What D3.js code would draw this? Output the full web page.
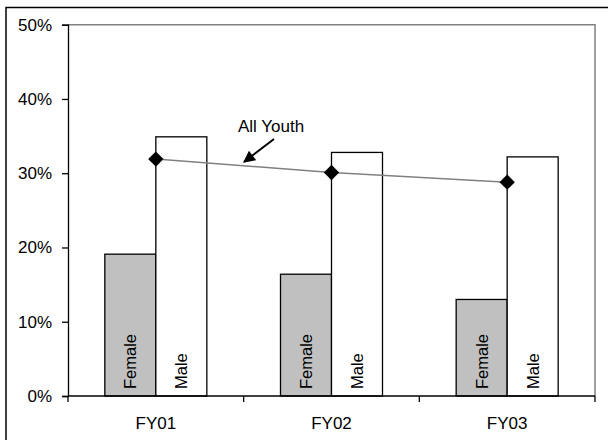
<!DOCTYPE html>
<html>
<head>
<meta charset="utf-8">
<script src="https://cdn.jsdelivr.net/npm/d3@7"></script>
<style>
  body { margin: 0; background: #fff; }
  svg { display: block; font-family: "Liberation Sans", Arial, sans-serif; }
</style>
</head>
<body>
<svg id="chart" width="608" height="440"></svg>
<script>
// data
const years = ["FY01", "FY02", "FY03"];
const female = [0.191, 0.164, 0.130];
const male = [0.349, 0.328, 0.322];
const allYouth = [0.319, 0.301, 0.288];
const yTicks = [0, 0.1, 0.2, 0.3, 0.4, 0.5];

var svg = d3.select("#chart");
var pLeft = 68, pRight = 595, pTop = 24.7, pBottom = 396;

// outer frame (only top and left edges show in the picture)
svg.append("path")
  .attr("d", "M6,440V7.5H608")
  .attr("fill", "none").attr("stroke", "#000").attr("stroke-width", 1.5);

var x = d3.scaleBand().domain(years).range([pLeft, pRight]);
var y = d3.scaleLinear().domain([0, 0.5]).range([pBottom, pTop]);
var barW = 51;

// plot area top / right edges in grey
svg.append("path")
  .attr("d", "M" + pLeft + "," + pTop + "H" + pRight + "V" + pBottom)
  .attr("fill", "none").attr("stroke", "#808080").attr("stroke-width", 1.5);

// bars
var g = svg.append("g");
years.forEach(function(yr, i){
  var cx = x(yr) + x.bandwidth() / 2;
  g.append("rect")
    .attr("x", cx - barW).attr("y", y(female[i]))
    .attr("width", barW).attr("height", y(0) - y(female[i]))
    .attr("fill", "#c0c0c0").attr("stroke", "#000").attr("stroke-width", 1.3);
  g.append("rect")
    .attr("x", cx).attr("y", y(male[i]))
    .attr("width", barW).attr("height", y(0) - y(male[i]))
    .attr("fill", "#fff").attr("stroke", "#000").attr("stroke-width", 1.3);
  g.append("text")
    .attr("transform", "translate(" + (cx - barW / 2 + 6) + "," + 389 + ") rotate(-90)")
    .attr("font-size", 16.5).text("Female");
  g.append("text")
    .attr("transform", "translate(" + (cx + barW / 2 + 6) + "," + 389 + ") rotate(-90)")
    .attr("font-size", 16.5).text("Male");
});

// All Youth line
var line = d3.line()
  .x(function(d, i){ return x(years[i]) + x.bandwidth() / 2; })
  .y(function(d){ return y(d); });
svg.append("path").datum(allYouth)
  .attr("d", line)
  .attr("fill", "none").attr("stroke", "#808080").attr("stroke-width", 1.5);
svg.selectAll(".dia").data(allYouth).enter().append("path")
  .attr("class", "dia")
  .attr("d", d3.symbol().type(d3.symbolDiamond2).size(150))
  .attr("transform", function(d, i){
    return "translate(" + (x(years[i]) + x.bandwidth() / 2) + "," + y(d) + ")";
  })
  .attr("fill", "#000");

// y axis
var yAxis = svg.append("g")
  .attr("transform", "translate(" + pLeft + ",0)")
  .call(d3.axisLeft(y).tickValues(yTicks).tickFormat(d3.format(".0%")).tickSize(6).tickPadding(10));
yAxis.select(".domain").attr("stroke", "#000").attr("stroke-width", 1.3);
yAxis.selectAll("line").attr("stroke", "#000").attr("stroke-width", 1.3);
yAxis.selectAll("text").attr("font-size", 17).attr("fill", "#000")
  .attr("font-family", "Liberation Sans, Arial, sans-serif");

// x axis: ticks between categories
var xAxis = svg.append("g")
  .attr("transform", "translate(0," + pBottom + ")");
xAxis.append("line")
  .attr("x1", pLeft).attr("x2", pRight)
  .attr("stroke", "#000").attr("stroke-width", 1.3);
xAxis.selectAll(".tk").data(years.concat(["end"])).enter().append("line")
  .attr("x1", function(d, i){ return pLeft + i * x.bandwidth(); })
  .attr("x2", function(d, i){ return pLeft + i * x.bandwidth(); })
  .attr("y1", 0).attr("y2", 6)
  .attr("stroke", "#000").attr("stroke-width", 1.3);
xAxis.selectAll(".lbl").data(years).enter().append("text")
  .attr("x", function(d){ return x(d) + x.bandwidth() / 2; })
  .attr("y", 33)
  .attr("text-anchor", "middle").attr("font-size", 17)
  .text(function(d){ return d; });

// annotation
svg.append("defs").append("marker")
  .attr("id", "ah").attr("viewBox", "0 0 10 10")
  .attr("refX", 9).attr("refY", 5)
  .attr("markerWidth", 7).attr("markerHeight", 6)
  .attr("orient", "auto")
  .append("path").attr("d", "M0,0L10,5L0,10z").attr("fill", "#000");
svg.append("text")
  .attr("x", 238).attr("y", 131.5)
  .attr("font-size", 17).text("All Youth");
svg.append("line")
  .attr("x1", 274).attr("y1", 139).attr("x2", 244).attr("y2", 162)
  .attr("stroke", "#000").attr("stroke-width", 2)
  .attr("marker-end", "url(#ah)");
</script>
</body>
</html>
